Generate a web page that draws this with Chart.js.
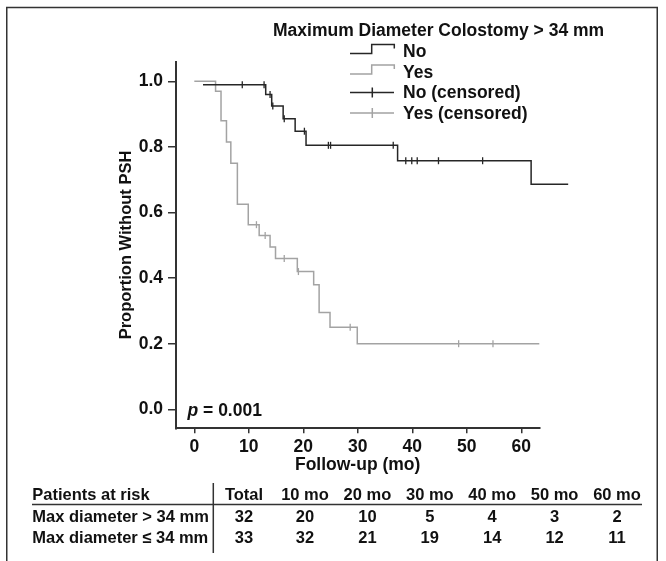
<!DOCTYPE html>
<html>
<head>
<meta charset="utf-8">
<script src="https://cdn.jsdelivr.net/npm/chart.js@4.4.1/dist/chart.umd.min.js"></script>
<style>
  html, body { margin: 0; padding: 0; background: #fff; }
  #wrap { width: 666px; height: 561px; }
</style>
</head>
<body>
<div id="wrap"><canvas id="km" width="666" height="561"></canvas></div>
<script>
// Kaplan-Meier steps (months, proportion)
const noTimes = [1.6, 13.1, 14.2, 16.3, 18.5, 20.5, 37.3, 61.8, 68.6];
const noSurv = [0.99, 0.96, 0.925, 0.886, 0.848, 0.805, 0.758, 0.686, 0.686];
const yesTimes = [0, 3.9, 4.9, 5.9, 6.7, 7.9, 9.9, 11.9, 13.9, 14.9, 18.9, 21.9, 22.9, 24.9, 29.9, 63.3];
const yesSurv = [1.0, 0.97, 0.88, 0.815, 0.75, 0.625, 0.563, 0.53, 0.495, 0.46, 0.42, 0.38, 0.295, 0.25, 0.2, 0.2];

// censored observations
const noCensTimes = [8.8, 12.8, 13.9, 14.4, 16.5, 20.2, 24.6, 25.0, 36.5, 38.8, 39.9, 40.9, 44.8, 52.9];
const noCensSurv = [0.99, 0.99, 0.96, 0.925, 0.886, 0.848, 0.805, 0.805, 0.805, 0.758, 0.758, 0.758, 0.758, 0.758];
const yesCensTimes = [11.4, 13.0, 16.5, 19.1, 28.6, 48.5, 54.8];
const yesCensSurv = [0.563, 0.53, 0.46, 0.42, 0.25, 0.2, 0.2];

const xTicks = [0, 10, 20, 30, 40, 50, 60];
const yTicks = [0, 0.2, 0.4, 0.6, 0.8, 1.0];

// patients at risk table
const riskHeader = ['Total', '10 mo', '20 mo', '30 mo', '40 mo', '50 mo', '60 mo'];
const riskLabels = ['Max diameter > 34 mm', 'Max diameter \u2264 34 mm'];
const riskOver = [32, 20, 10, 5, 4, 3, 2];
const riskUnder = [33, 32, 21, 19, 14, 12, 11];

const FONT = "'Liberation Sans', Arial, Helvetica, sans-serif";
const INK = '#262626';
const AXIS = '#333333';
const GREY = '#a3a3a3';

const toPoints = (xs, ys) => xs.map((x, i) => ({ x: x, y: ys[i] }));

// frame, legend, p value and risk table are drawn on top of the chart
const extras = {
    id: 'extras',
    afterDraw(chart) {
        const ctx = chart.ctx;
        ctx.save();

        // outer frame
        ctx.strokeStyle = AXIS;
        ctx.lineWidth = 1.5;
        ctx.strokeRect(6.75, 7.5, 650.5, 580);

        // legend
        ctx.fillStyle = '#111';
        ctx.font = 'bold 17.5px ' + FONT;
        ctx.textBaseline = 'middle';
        ctx.textAlign = 'left';
        ctx.fillText('Maximum Diameter Colostomy > 34 mm', 273, 31);

        const rows = [52.5, 73, 93.5, 114];
        chart.data.datasets.forEach((ds, i) => {
            const cy = rows[i];
            ctx.strokeStyle = ds.borderColor;
            ctx.lineWidth = 1.5;
            ctx.beginPath();
            if (ds.censored) {
                ctx.moveTo(350, cy - 1);
                ctx.lineTo(394, cy - 1);
                ctx.moveTo(372.3, cy - 6);
                ctx.lineTo(372.3, cy + 4);
            } else {
                ctx.moveTo(350, cy + 1);
                ctx.lineTo(371.7, cy + 1);
                ctx.lineTo(371.7, cy - 8);
                ctx.lineTo(394.3, cy - 8);
                ctx.lineTo(394.3, cy - 4);
            }
            ctx.stroke();
            ctx.fillStyle = '#111';
            ctx.fillText(ds.label, 403, cy);
        });

        // p value
        ctx.font = 'italic bold 17.5px ' + FONT;
        ctx.fillText('p', 187.5, 411);
        const pw = ctx.measureText('p').width;
        ctx.font = 'bold 17.5px ' + FONT;
        ctx.fillText(' = 0.001', 187.5 + pw, 411);

        // patients at risk
        const colX = riskHeader.map((h, i) => i === 0 ? 244 : 305 + (i - 1) * 62.4);
        ctx.font = 'bold 16.5px ' + FONT;
        ctx.textAlign = 'left';
        ctx.fillText('Patients at risk', 32.3, 495);
        ctx.fillText(riskLabels[0], 32.3, 517);
        ctx.fillText(riskLabels[1], 32.3, 538);
        ctx.textAlign = 'center';
        riskHeader.forEach((h, i) => {
            ctx.fillText(h, colX[i], 495);
            ctx.fillText(String(riskOver[i]), colX[i], 517);
            ctx.fillText(String(riskUnder[i]), colX[i], 538);
        });
        ctx.strokeStyle = AXIS;
        ctx.lineWidth = 1.5;
        ctx.beginPath();
        ctx.moveTo(32, 504.5);
        ctx.lineTo(642, 504.5);
        ctx.moveTo(213.3, 483);
        ctx.lineTo(213.3, 553);
        ctx.stroke();

        ctx.restore();
    }
};

const ctx = document.getElementById('km').getContext('2d');
new Chart(ctx, {
    type: 'line',
    data: {
        datasets: [
            {
                label: 'No',
                data: toPoints(noTimes, noSurv),
                borderColor: INK,
                borderWidth: 1.5,
                stepped: 'before',
                pointRadius: 0,
                clip: false
            },
            {
                label: 'Yes',
                data: toPoints(yesTimes, yesSurv),
                borderColor: GREY,
                borderWidth: 1.5,
                stepped: 'before',
                pointRadius: 0,
                clip: false
            },
            {
                label: 'No (censored)',
                censored: true,
                data: toPoints(noCensTimes, noCensSurv),
                borderColor: INK,
                showLine: false,
                pointStyle: 'line',
                rotation: 90,
                pointRadius: 3.5,
                pointBorderWidth: 1.3,
                clip: false
            },
            {
                label: 'Yes (censored)',
                censored: true,
                data: toPoints(yesCensTimes, yesCensSurv),
                borderColor: GREY,
                showLine: false,
                pointStyle: 'line',
                rotation: 90,
                pointRadius: 3.5,
                pointBorderWidth: 1.3,
                clip: false
            }
        ]
    },
    options: {
        responsive: false,
        animation: false,
        devicePixelRatio: 1,
        layout: { padding: { left: 117, top: 61.7, right: 126.7, bottom: 82.7 } },
        plugins: {
            legend: { display: false },
            tooltip: { enabled: false }
        },
        scales: {
            x: {
                type: 'linear',
                min: -3.36,
                max: 63.3,
                afterFit: s => { s.height = 50; },
                afterBuildTicks: s => { s.ticks = xTicks.map(v => ({ value: v })); },
                border: { display: true, color: AXIS, width: 2 },
                grid: { drawOnChartArea: false, drawTicks: true, tickLength: 5, color: AXIS, lineWidth: 1.5 },
                ticks: { color: '#111', padding: 3, maxRotation: 0, font: { family: FONT, size: 17.5, weight: 'bold' } },
                title: {
                    display: true,
                    text: 'Follow-up (mo)',
                    color: '#111',
                    padding: { top: 0, bottom: 3 },
                    font: { family: FONT, size: 17.5, weight: 'bold' }
                }
            },
            y: {
                min: -0.058,
                max: 1.06,
                afterFit: s => { s.width = 59; },
                afterBuildTicks: s => { s.ticks = yTicks.map(v => ({ value: v })); },
                border: { display: true, color: AXIS, width: 2 },
                grid: { drawOnChartArea: false, drawTicks: true, tickLength: 8, color: AXIS, lineWidth: 1.5 },
                ticks: {
                    color: '#111',
                    padding: 5,
                    font: { family: FONT, size: 17.5, weight: 'bold' },
                    callback: v => v.toFixed(1)
                },
                title: {
                    display: true,
                    text: 'Proportion Without PSH',
                    color: '#111',
                    padding: 0,
                    font: { family: FONT, size: 16.5, weight: 'bold' }
                }
            }
        }
    },
    plugins: [extras]
});
</script>
</body>
</html>
